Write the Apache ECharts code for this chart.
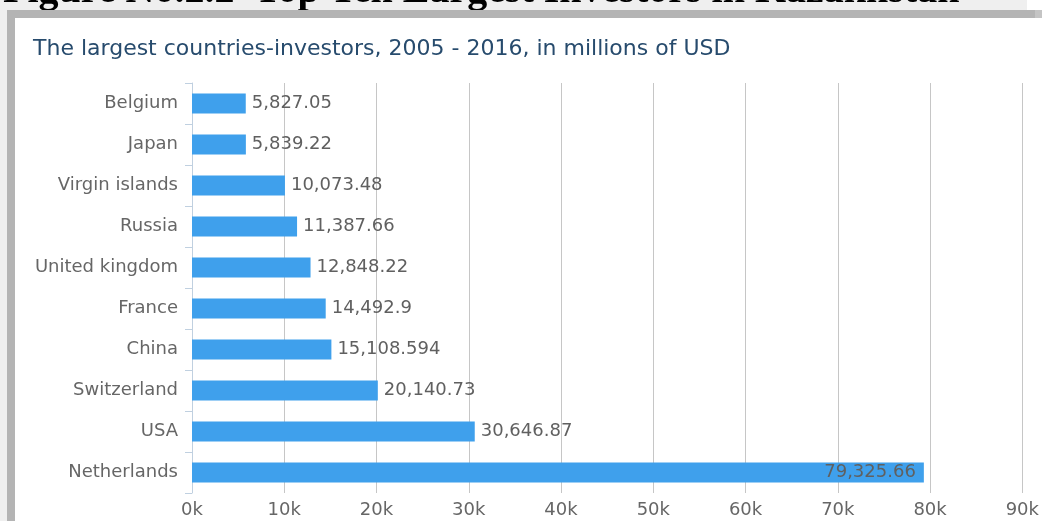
<!DOCTYPE html>
<html>
<head>
<meta charset="utf-8">
<script src="https://cdn.jsdelivr.net/npm/echarts@6/dist/echarts.min.js"></script>
<style>
  html, body { margin: 0; padding: 0; background: #ffffff; }
  #chart { width: 1042px; height: 521px; }
</style>
</head>
<body>
<div id="chart"></div>
<script>
// Top ten investor countries, cumulative 2005-2016, millions of USD
const countries = ['Belgium', 'Japan', 'Virgin islands', 'Russia', 'United kingdom',
  'France', 'China', 'Switzerland', 'USA', 'Netherlands'];
const investments = [5827.05, 5839.22, 10073.48, 11387.66, 12848.22,
  14492.9, 15108.594, 20140.73, 30646.87, 79325.66];
const axisTicks = [0, 10000, 20000, 30000, 40000, 50000, 60000, 70000, 80000, 90000];

const heading = 'Figure No.2.2  Top Ten Largest Investors in Kazakhstan';
const chartTitle = 'The largest countries-investors, 2005 - 2016, in millions of USD';

const fmt = v => v.toLocaleString('en-US', { maximumFractionDigits: 3 });
const labelFont = 'DejaVu Sans, Verdana, sans-serif';

const chart = echarts.init(document.getElementById('chart'), null, { renderer: 'canvas' });

chart.setOption({
  backgroundColor: '#ffffff',
  animation: false,
  graphic: [
    // page strip behind the heading and the framed chart
    { type: 'rect', z: -10, shape: { x: 0, y: 0, width: 1027, height: 10 }, style: { fill: '#efefef' } },
    { type: 'rect', z: -10, shape: { x: 0, y: 0, width: 7, height: 521 }, style: { fill: '#efefef' } },
    { type: 'text', z: -5, left: 3, top: -28,
      style: { text: heading, fill: '#000000', font: 'bold 40px "Liberation Serif", "Times New Roman", serif' } },
    // frame edges
    { type: 'rect', z: -4, shape: { x: 7, y: 10, width: 1028, height: 8 }, style: { fill: '#b4b4b4' } },
    { type: 'rect', z: -4, shape: { x: 1035, y: 10, width: 7, height: 8 }, style: { fill: '#c4c4c4' } },
    { type: 'rect', z: -4, shape: { x: 7, y: 10, width: 8, height: 511 }, style: { fill: '#b4b4b4' } }
  ],
  title: {
    text: chartTitle,
    left: 28,
    top: 33,
    textStyle: { color: '#274b6d', fontSize: 22, fontWeight: 'normal', fontFamily: labelFont }
  },
  grid: { left: 192, right: 15, top: 83, bottom: 28, containLabel: false },
  xAxis: {
    type: 'value',
    min: axisTicks[0],
    max: axisTicks[axisTicks.length - 1],
    interval: axisTicks[1] - axisTicks[0],
    axisLine: { show: false },
    axisTick: { show: false },
    splitLine: { show: true, lineStyle: { color: '#c6c6c6', width: 1 } },
    axisLabel: {
      color: '#666666', fontSize: 18, fontFamily: labelFont, margin: 8,
      formatter: v => (v / 1000) + 'k'
    }
  },
  yAxis: {
    type: 'category',
    inverse: true,
    data: countries,
    axisLine: { show: true, lineStyle: { color: '#c0d0e0', width: 1 } },
    axisTick: { show: true, length: 7, lineStyle: { color: '#c0d0e0' } },
    axisLabel: { color: '#666666', fontSize: 18, fontFamily: labelFont, margin: 14 }
  },
  series: [{
    type: 'bar',
    data: investments.map((v, i) => ({
      value: v,
      label: i === investments.length - 1 ? { position: 'insideRight', distance: 8 } : undefined
    })),
    barWidth: 20,
    itemStyle: { color: '#3fa0ec' },
    label: {
      show: true,
      position: 'right',
      distance: 6,
      color: '#606060',
      fontSize: 18,
      fontFamily: labelFont,
      formatter: p => fmt(p.value)
    }
  }]
});
</script>
</body>
</html>
